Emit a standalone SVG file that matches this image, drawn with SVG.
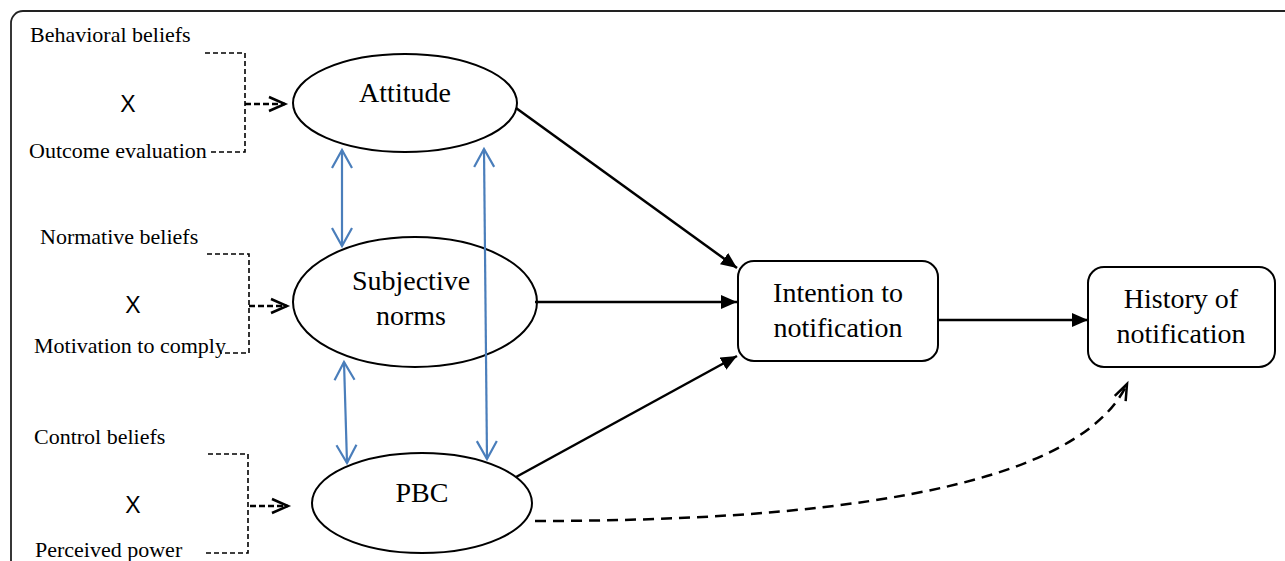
<svg xmlns="http://www.w3.org/2000/svg" width="1285" height="561" viewBox="0 0 1285 561">
<style>
.lbl{font-family:"Liberation Serif","Times New Roman",serif;font-size:22px;fill:#000}
.node{font-family:"Liberation Serif","Times New Roman",serif;font-size:28px;fill:#000;text-anchor:middle}
.x{font-family:"Liberation Sans",Arial,sans-serif;font-size:23px;fill:#000;text-anchor:middle}
.shape{fill:#fff;stroke:#000;stroke-width:2}
.br{fill:none;stroke:#000;stroke-width:1.6;stroke-dasharray:5 3}
.da{fill:none;stroke:#000;stroke-width:2.5;stroke-dasharray:6 3}
.solid{fill:none;stroke:#000;stroke-width:2.5}
.blue{fill:none;stroke:#4a7ebb;stroke-width:2.2}
.curve{fill:none;stroke:#000;stroke-width:2.5;stroke-dasharray:11 7}
</style>
<defs>
<marker id="tri" markerUnits="userSpaceOnUse" markerWidth="18" markerHeight="14" refX="16" refY="7" orient="auto" viewBox="0 0 18 14">
<path d="M0,0 L16,7 L0,14 z" fill="#000"/>
</marker>
<marker id="bl" markerUnits="userSpaceOnUse" markerWidth="24" markerHeight="26" refX="20" refY="12" orient="auto-start-reverse" viewBox="0 0 24 26">
<path d="M2,2 L20,12 L2,22" fill="none" stroke="#4a7ebb" stroke-width="2.2"/>
</marker>
<marker id="chev" markerUnits="userSpaceOnUse" markerWidth="22" markerHeight="20" refX="18" refY="9" orient="auto" viewBox="0 0 22 20">
<path d="M2,2 L18,9 L2,16" fill="none" stroke="#000" stroke-width="2.5"/>
</marker>
<marker id="chev2" markerUnits="userSpaceOnUse" markerWidth="22" markerHeight="20" refX="18" refY="9" orient="auto" viewBox="0 0 22 20">
<path d="M2,3 L18,9 L2,15" fill="none" stroke="#000" stroke-width="2.5"/>
</marker>
</defs>
<rect x="11" y="11" width="1400" height="700" rx="12" fill="none" stroke="#222" stroke-width="1.8"/>

<g id="behavioral">
<text class="lbl" x="30" y="42">Behavioral beliefs</text>
<text class="x" x="128" y="112">X</text>
<text class="lbl" x="29" y="158">Outcome evaluation</text>
</g>
<g id="normative">
<text class="lbl" x="40" y="244">Normative beliefs</text>
<text class="x" x="133" y="313">X</text>
<text class="lbl" x="34" y="353">Motivation to comply</text>
</g>
<g id="control">
<text class="lbl" x="34" y="444">Control beliefs</text>
<text class="x" x="133" y="513">X</text>
<text class="lbl" x="35" y="557">Perceived power</text>
</g>

<g id="attitude">
<ellipse class="shape" cx="405" cy="103" rx="112" ry="49"/>
<text class="node" x="405" y="102">Attitude</text>
</g>
<g id="subjective-norms">
<ellipse class="shape" cx="415" cy="302" rx="122" ry="65"/>
<text class="node" x="411" y="290">Subjective</text>
<text class="node" x="411" y="325">norms</text>
</g>
<g id="pbc">
<ellipse class="shape" cx="422" cy="503" rx="110" ry="50"/>
<text class="node" x="422" y="502">PBC</text>
</g>
<g id="intention">
<rect class="shape" x="738" y="261" width="200" height="100" rx="16"/>
<text class="node" x="838" y="302">Intention to</text>
<text class="node" x="838" y="337">notification</text>
</g>
<g id="history">
<rect class="shape" x="1088" y="267" width="187" height="100" rx="16"/>
<text class="node" x="1181" y="308">History of</text>
<text class="node" x="1181" y="343">notification</text>
</g>

<g id="connectors">
<path class="br" d="M205,53 H245 V152 H210"/>
<path class="br" d="M207,254 H249 V353 H220"/>
<path class="br" d="M208,454 H248 V553 H205"/>
<path class="da" d="M245,104 H285" marker-end="url(#chev)"/>
<path class="da" d="M249,306 H287" marker-end="url(#chev)"/>
<path class="da" d="M250,506 H288" marker-end="url(#chev)"/>
<path class="blue" d="M342,150 L342,246" marker-start="url(#bl)" marker-end="url(#bl)"/>
<path class="blue" d="M484,149 L487,459" marker-start="url(#bl)" marker-end="url(#bl)"/>
<path class="blue" d="M344,362 L347,463" marker-start="url(#bl)" marker-end="url(#bl)"/>
<path class="solid" d="M516,108 L737,268" marker-end="url(#tri)"/>
<path class="solid" d="M535,302 L737,302" marker-end="url(#tri)"/>
<path class="solid" d="M516,477 L737,356" marker-end="url(#tri)"/>
<path class="solid" d="M938,320 L1088,320" marker-end="url(#tri)"/>
<path class="curve" d="M535,521 C800,521 1075,495 1127,384" marker-end="url(#chev2)"/>
</g>
</svg>
